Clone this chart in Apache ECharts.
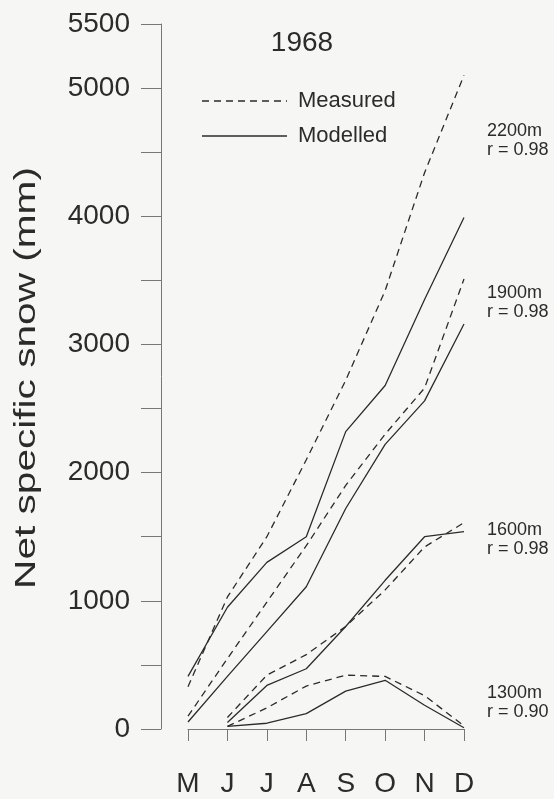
<!DOCTYPE html>
<html lang="en">
<head>
    <meta charset="utf-8">
    <title>Net specific snow 1968</title>
    <script type="text/javascript" src="https://cdn.jsdelivr.net/npm/echarts@6.0.0/dist/echarts.min.js"></script>
    <style>
        html, body { margin: 0; padding: 0; background: #f6f7f5; }
    </style>
</head>
<body>
    <!-- chart container -->
    <div id="main" style="width: 554px;height:799px;"></div>

<script type="text/javascript">

    // months on the x axis
    var months = ['M', 'J', 'J', 'A', 'S', 'O', 'N', 'D'];

    // net specific snow (mm)
    var measured2200 = [330, 1030, 1500, 2100, 2720, 3420, 4340, 5100];
    var modelled2200 = [410, 950, 1300, 1500, 2320, 2680, 3350, 3990];
    var measured1900 = [100, 550, 990, 1430, 1900, 2300, 2660, 3510];
    var modelled1900 = [55, 410, 760, 1110, 1720, 2220, 2560, 3160];
    var measured1600 = [null, 90, 420, 580, 800, 1085, 1420, 1610];
    var modelled1600 = [null, 50, 340, 470, 800, 1160, 1500, 1540];
    var measured1300 = [null, 20, 165, 335, 420, 410, 260, 25];
    var modelled1300 = [null, 20, 45, 120, 295, 380, 185, 10];

    // labels at the right end of each pair
    var siteLabels = ['2200m', '1900m', '1600m', '1300m'];
    var siteR = ['r = 0.98', 'r = 0.98', 'r = 0.98', 'r = 0.90'];
    var siteLabelY = [131, 293, 530, 693];

    var font = 'Liberation Sans, Arial, sans-serif';
    var ink = '#2b2b2b';
    var dash = [7, 5];

    var myChart = echarts.init(document.getElementById('main'));

    function lineSeries(name, data, dashed) {
        return {
            name: name,
            type: 'line',
            data: data,
            symbol: 'none',
            connectNulls: false,
            lineStyle: {
                color: ink,
                width: 1.3,
                type: dashed ? dash : 'solid'
            }
        };
    }

    var graphics = [
        // title
        { type: 'text', x: 302, y: 43, style: { text: '1968', font: '28px ' + font, fill: ink, textAlign: 'center', textVerticalAlign: 'middle' } },
        // legend
        { type: 'line', shape: { x1: 202, y1: 101, x2: 287, y2: 101 }, style: { stroke: ink, lineWidth: 1.3, lineDash: dash } },
        { type: 'text', x: 298, y: 101, style: { text: 'Measured', font: '22px ' + font, fill: ink, textVerticalAlign: 'middle' } },
        { type: 'line', shape: { x1: 202, y1: 136, x2: 287, y2: 136 }, style: { stroke: ink, lineWidth: 1.3 } },
        { type: 'text', x: 298, y: 136, style: { text: 'Modelled', font: '22px ' + font, fill: ink, textVerticalAlign: 'middle' } },
        // y axis title (stretched along its length like the scan)
        { type: 'text', x: 27, y: 378, rotation: Math.PI / 2, scaleX: 1.4, style: { text: 'Net specific snow (mm)', font: '29px ' + font, fill: ink, textAlign: 'center', textVerticalAlign: 'middle' } }
    ];
    for (var i = 0; i < siteLabels.length; i++) {
        graphics.push({ type: 'text', x: 487, y: siteLabelY[i], style: { text: siteLabels[i], font: '18px ' + font, fill: ink, textVerticalAlign: 'middle' } });
        graphics.push({ type: 'text', x: 487, y: siteLabelY[i] + 19, style: { text: siteR[i], font: '18px ' + font, fill: ink, textVerticalAlign: 'middle' } });
    }

    var option = {
        backgroundColor: '#f6f7f5',
        animation: false,
        textStyle: { fontFamily: font },
        grid: { left: 188, right: 90, top: 24, bottom: 70 },
        xAxis: {
            type: 'category',
            data: months,
            boundaryGap: false,
            offset: 21,
            axisLine: { lineStyle: { color: '#777', width: 1 } },
            axisTick: { length: 12, lineStyle: { color: '#777' } },
            axisLabel: { interval: 0, fontSize: 28, color: ink, margin: 20 },
            splitLine: { show: false }
        },
        yAxis: {
            type: 'value',
            min: 0,
            max: 5500,
            interval: 500,
            offset: 27,
            axisLine: { show: true, lineStyle: { color: '#777', width: 1 } },
            axisTick: { show: true, length: 20, lineStyle: { color: '#777' } },
            axisLabel: {
                fontSize: 28,
                color: ink,
                margin: 31,
                formatter: function (v) {
                    return (v % 1000 === 0 || v === 5500) ? String(v) : '';
                }
            },
            splitLine: { show: false }
        },
        graphic: graphics,
        series: [
            lineSeries('2200m measured', measured2200, true),
            lineSeries('2200m modelled', modelled2200, false),
            lineSeries('1900m measured', measured1900, true),
            lineSeries('1900m modelled', modelled1900, false),
            lineSeries('1600m measured', measured1600, true),
            lineSeries('1600m modelled', modelled1600, false),
            lineSeries('1300m measured', measured1300, true),
            lineSeries('1300m modelled', modelled1300, false)
        ]
    };

    myChart.setOption(option);
</script>
</body>
</html>
